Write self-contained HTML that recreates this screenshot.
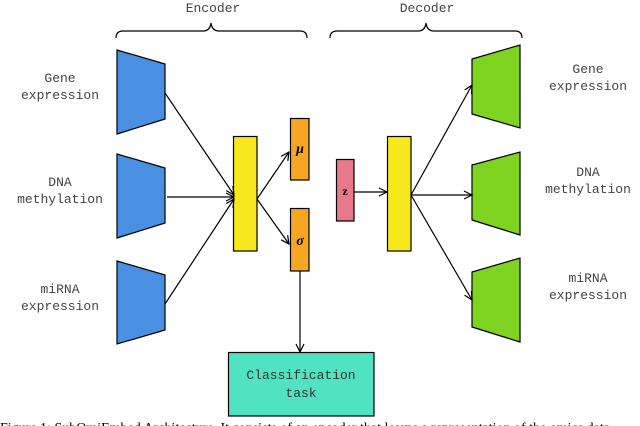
<!DOCTYPE html>
<html><head><style>
html,body{margin:0;padding:0;background:#fff;width:640px;height:426px;overflow:hidden}
</style></head><body>
<svg width="640" height="426" viewBox="0 0 640 426" xmlns="http://www.w3.org/2000/svg">
<defs>
<marker id="a" markerWidth="10" markerHeight="10" refX="9" refY="5" orient="auto" markerUnits="userSpaceOnUse">
<path d="M1,1 L9,5 L1,9" fill="none" stroke="#000" stroke-width="1.2"/>
</marker>
</defs>
<g font-family="Liberation Mono, monospace" font-size="13" fill="#444" text-anchor="middle">
<text x="213" y="12">Encoder</text>
<text x="427" y="12">Decoder</text>
<text x="60" y="82">Gene</text><text x="60" y="99">expression</text>
<text x="60" y="186">DNA</text><text x="60" y="203">methylation</text>
<text x="60" y="293">miRNA</text><text x="60" y="310">expression</text>
<text x="588" y="73">Gene</text><text x="588" y="90">expression</text>
<text x="588" y="176">DNA</text><text x="588" y="193">methylation</text>
<text x="588" y="282">miRNA</text><text x="588" y="299">expression</text>
</g>
<g fill="none" stroke="#000" stroke-width="1.2">
<path d="M116,38 Q116,31 123,31 L203,31 Q210,31 211,23 Q212,31 219,31 L300,31 Q307,31 307,38"/>
<path d="M330,38 Q330,31 337,31 L418,31 Q425,31 426,23 Q427,31 434,31 L515,31 Q522,31 522,38"/>
</g>
<g stroke="#000" stroke-width="1.2">
<polygon points="117,50 165,64 165,119 117,134" fill="#4a90e2"/>
<polygon points="117,154 165,168 165,223 117,238" fill="#4a90e2"/>
<polygon points="117,261 165,275 165,330 117,344" fill="#4a90e2"/>
<polygon points="472,59 520,45 520,128 472,114" fill="#7ed321"/>
<polygon points="472,165 520,152 520,235 472,220" fill="#7ed321"/>
<polygon points="472,272 520,258 520,342 472,327" fill="#7ed321"/>
<rect x="233.5" y="136.5" width="23.5" height="114.5" fill="#f8e71c"/>
<rect x="387.5" y="136.5" width="23.5" height="114.5" fill="#f8e71c"/>
<rect x="290.5" y="118.5" width="18.5" height="61.5" fill="#f5a623"/>
<rect x="290.5" y="208.5" width="18.5" height="62.5" fill="#f5a623"/>
<rect x="336.5" y="159.5" width="17.5" height="61.5" fill="#e8788a"/>
<rect x="228.5" y="352.5" width="145.5" height="63.5" fill="#50e3c2"/>
</g>
<g font-family="Liberation Serif, serif" font-weight="bold" font-style="italic" font-size="14" text-anchor="middle" fill="#000">
<text x="300" y="153">μ</text>
<text x="300" y="245">σ</text>
<text x="345" y="195" font-style="normal" font-size="12">z</text>
</g>
<g font-family="Liberation Mono, monospace" font-size="13" fill="#333" text-anchor="middle">
<text x="301" y="379">Classification</text>
<text x="301" y="397">task</text>
</g>
<g stroke="#000" stroke-width="1.2" fill="none" marker-end="url(#a)">
<line x1="165" y1="93" x2="234" y2="195"/>
<line x1="167" y1="197" x2="234" y2="197"/>
<line x1="165" y1="304" x2="234" y2="199"/>
<line x1="257" y1="199" x2="289" y2="152"/>
<line x1="257" y1="199" x2="289" y2="244"/>
<line x1="300" y1="271" x2="300" y2="352"/>
<line x1="354" y1="192" x2="387" y2="192"/>
<line x1="411" y1="195" x2="472" y2="85"/>
<line x1="411" y1="195" x2="472" y2="195"/>
<line x1="411" y1="195" x2="472" y2="300"/>
</g>
<text x="0" y="432" font-family="Liberation Serif, serif" font-size="14" fill="#000">Figure 1: SubOmiEmbed Architecture. It consists of an encoder that learns a representation of the omics data</text>
</svg>
</body></html>
